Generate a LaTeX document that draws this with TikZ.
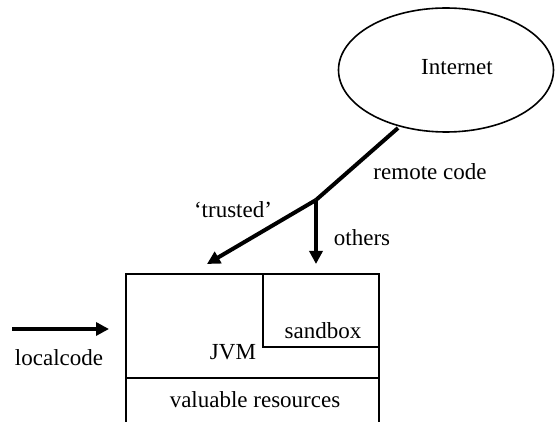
\documentclass[tikz,border=0pt]{standalone}
\usepackage{fontspec}
\setmainfont{Liberation Serif}
\usetikzlibrary{shapes.geometric,arrows.meta}
\begin{document}
\begin{tikzpicture}[x=1pt,y=-1pt,
  lbl/.style={font=\fontsize{23}{24}\selectfont, inner sep=0pt},
  flow/.style={line width=4pt, -{Triangle[length=13pt,width=13pt]}},
  wire/.style={line width=4pt},
  frame/.style={draw, line width=1.6pt}]
\useasboundingbox (0,0) rectangle (555,422);

% the network
\node[ellipse, draw, line width=1.6pt, minimum width=215pt, minimum height=124pt, inner sep=0pt]
  (net) at (446,70) {};
\node[lbl] (netlbl) at (457,67) {Internet};

% the machine: JVM area, sandbox corner and resources strip
\node[frame, minimum width=253pt, minimum height=104pt, inner sep=0pt, anchor=north west]
  (jvm) at (125,273) {};
\node[frame, minimum width=116pt, minimum height=73pt, inner sep=0pt, anchor=north west]
  (sandbox) at (262,273) {};
\node[frame, minimum width=253pt, minimum height=45pt, inner sep=0pt, anchor=north west]
  (res) at (125,377) {};

\node[lbl] (sandlbl) at (323,331) {sandbox};
\node[lbl] (jvmlbl) at (233,352) {JVM};
\node[lbl] (reslbl) at (255,400) {valuable resources};

% remote code path, splitting at a junction
\coordinate (netout) at (398,128);
\coordinate (split) at (316,200);
\coordinate (trustend) at (207,264);
\coordinate (otherend) at (316,264);
\draw[wire] (netout) -- (split);
\draw[flow] (split) -- (trustend);
\draw[flow] (split) -- (otherend);
\node[lbl] (rclbl) at (430,172) {remote code};
\node[lbl] (trlbl) at (233,210) {`trusted'};
\node[lbl] (othlbl) at (362,238) {others};

% local code entry
\coordinate (locstart) at (12,329);
\coordinate (locend) at (109,329);
\draw[flow] (locstart) -- (locend);
\node[lbl] (loclbl) at (59,358) {localcode};
\end{tikzpicture}
\end{document}
